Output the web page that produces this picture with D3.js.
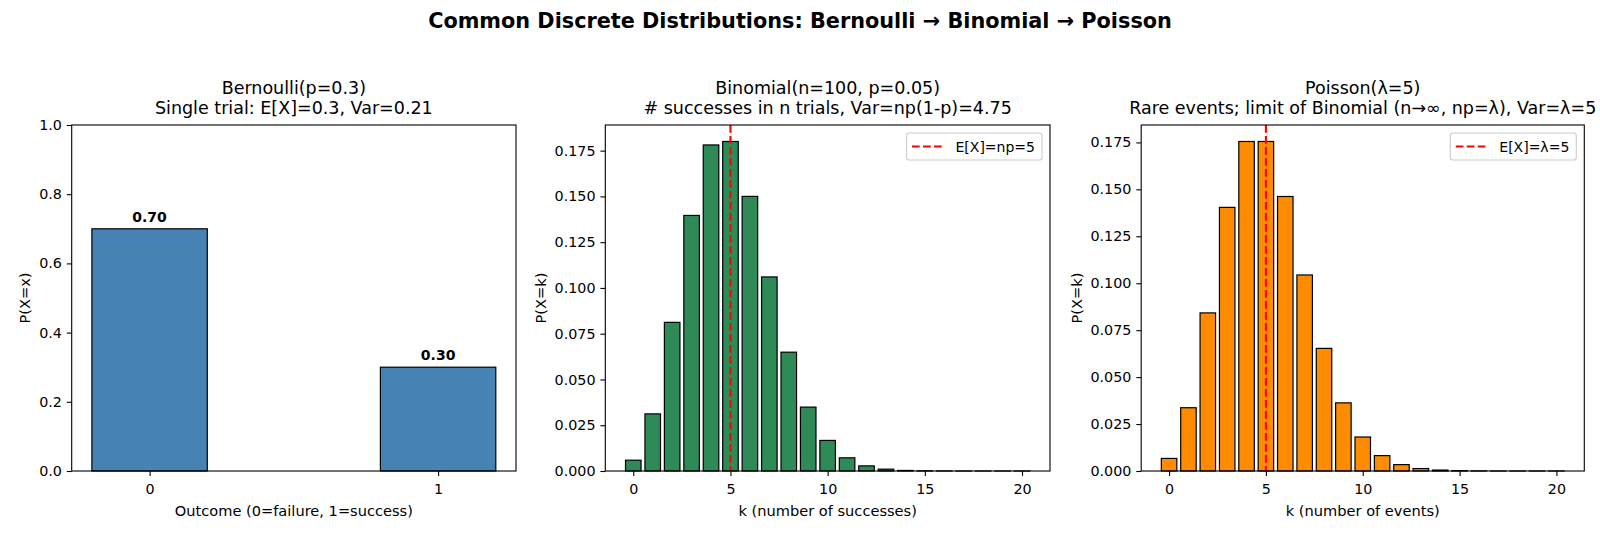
<!DOCTYPE html>
<html>
<head>
<meta charset="utf-8">
<script src="https://cdn.jsdelivr.net/npm/d3@7"></script>
<style>
  body { margin: 0; background: #fff; }
  svg { display: block; font-family: "DejaVu Sans", sans-serif; }
</style>
</head>
<body>
<svg id="chart"></svg>
<script>
// Data
const bernoulliOutcomes = [0, 1];
const bernoulliProbs = [0.70, 0.30];

const kValues = [0, 1, 2, 3, 4, 5, 6, 7, 8, 9, 10, 11, 12, 13, 14, 15, 16, 17, 18, 19, 20];
const binomialProbs = [0.0059, 0.0312, 0.0812, 0.1396, 0.1781, 0.1800, 0.1500, 0.1060, 0.0649, 0.0349,
  0.0167, 0.0072, 0.0028, 0.0010, 0.0003, 0.0001, 0.00003, 0.00001, 0.000002, 0.0000004, 0.0000001];
const poissonProbs = [0.0067, 0.0337, 0.0842, 0.1404, 0.1755, 0.1755, 0.1462, 0.1044, 0.0653, 0.0363,
  0.0181, 0.0082, 0.0034, 0.0013, 0.0005, 0.0002, 0.00005, 0.00001, 0.000004, 0.000001, 0.0000003];

const bernoulliYTicks = [0, 0.2, 0.4, 0.6, 0.8, 1.0];
const distYTicks = [0, 0.025, 0.05, 0.075, 0.1, 0.125, 0.15, 0.175];
const distXTicks = [0, 5, 10, 15, 20];

const meanValue = 5;

// Figure size and fonts
const width = 1600;
const height = 533;
const tickFont = 14.3;
const labelFont = 14.6;
const titleFont = 17.5;
const legendFont = 14;

const svg = d3.select("#chart")
    .attr("width", width)
    .attr("height", height)
    .attr("viewBox", [0, 0, width, height]);

// Figure title
svg.append("text")
    .attr("x", 800)
    .attr("y", 27.5)
    .attr("text-anchor", "middle")
    .attr("font-size", 20.8)
    .attr("font-weight", "bold")
    .text("Common Discrete Distributions: Bernoulli \u2192 Binomial \u2192 Poisson");

// Axes boxes (pixel positions)
const axTop = 125, axBottom = 471;

const panels = [
  {
    left: 71.7, right: 516,
    cats: bernoulliOutcomes, vals: bernoulliProbs, barWidth: 0.4,
    xDomain: [-0.27, 1.27], yMax: 1.0,
    xTicks: bernoulliOutcomes, yTicks: bernoulliYTicks, yFmt: ".1f",
    color: "#4682b4",
    title: ["Bernoulli(p=0.3)", "Single trial: E[X]=0.3, Var=0.21"],
    xLabel: "Outcome (0=failure, 1=success)", yLabel: "P(X=x)",
    valueLabels: true
  },
  {
    left: 605.3, right: 1050,
    cats: kValues, vals: binomialProbs, barWidth: 0.8,
    xDomain: [-1.44, 21.44], yMax: d3.max(binomialProbs) * 1.05,
    xTicks: distXTicks, yTicks: distYTicks, yFmt: ".3f",
    color: "#2e8b57",
    title: ["Binomial(n=100, p=0.05)", "# successes in n trials, Var=np(1-p)=4.75"],
    xLabel: "k (number of successes)", yLabel: "P(X=k)",
    legend: "E[X]=np=5"
  },
  {
    left: 1141.2, right: 1584.3,
    cats: kValues, vals: poissonProbs, barWidth: 0.8,
    xDomain: [-1.44, 21.44], yMax: d3.max(poissonProbs) * 1.05,
    xTicks: distXTicks, yTicks: distYTicks, yFmt: ".3f",
    color: "#ff8c00",
    title: ["Poisson(\u03bb=5)", "Rare events; limit of Binomial (n\u2192\u221e, np=\u03bb), Var=\u03bb=5"],
    xLabel: "k (number of events)", yLabel: "P(X=k)",
    legend: "E[X]=\u03bb=5"
  }
];

panels.forEach(p => {
  const x = d3.scaleLinear().domain(p.xDomain).range([p.left, p.right]);
  const y = d3.scaleLinear().domain([0, p.yMax]).range([axBottom, axTop]);
  const g = svg.append("g");

  // bars
  g.append("g")
    .selectAll("rect")
    .data(p.cats)
    .join("rect")
      .attr("x", (d) => x(d - p.barWidth / 2))
      .attr("width", x(p.barWidth) - x(0))
      .attr("y", (d, i) => y(p.vals[i]))
      .attr("height", (d, i) => y(0) - y(p.vals[i]))
      .attr("fill", p.color)
      .attr("stroke", "#000")
      .attr("stroke-width", 1.2);

  // bar value labels
  if (p.valueLabels) {
    g.append("g")
      .selectAll("text")
      .data(p.cats)
      .join("text")
        .attr("x", d => x(d))
        .attr("y", (d, i) => y(p.vals[i] + 0.02))
        .attr("text-anchor", "middle")
        .attr("font-size", 14)
        .attr("font-weight", "bold")
        .text((d, i) => p.vals[i].toFixed(2));
  }

  // mean line
  if (p.legend) {
    g.append("line")
      .attr("x1", x(meanValue)).attr("x2", x(meanValue))
      .attr("y1", axTop).attr("y2", axBottom)
      .attr("stroke", "#ff0000")
      .attr("stroke-width", 2.1)
      .attr("stroke-dasharray", "7.7,3.3");
  }

  // axes
  const xAxis = g.append("g")
    .attr("transform", `translate(0,${axBottom})`)
    .call(d3.axisBottom(x).tickValues(p.xTicks).tickFormat(d3.format("d"))
      .tickSize(4.9).tickPadding(4.9).tickSizeOuter(0));
  xAxis.select(".domain").remove();
  xAxis.selectAll("text").attr("font-size", tickFont).attr("fill", "#000")
    .attr("font-family", "DejaVu Sans").attr("dy", "0.92em");
  xAxis.selectAll("line").attr("stroke", "#000").attr("stroke-width", 1.1);

  const yAxis = g.append("g")
    .attr("transform", `translate(${p.left},0)`)
    .call(d3.axisLeft(y).tickValues(p.yTicks).tickFormat(d3.format(p.yFmt))
      .tickSize(4.9).tickPadding(4.9).tickSizeOuter(0));
  yAxis.select(".domain").remove();
  yAxis.selectAll("text").attr("font-size", tickFont).attr("fill", "#000")
    .attr("font-family", "DejaVu Sans");
  yAxis.selectAll("line").attr("stroke", "#000").attr("stroke-width", 1.1);

  // spines
  g.append("rect")
    .attr("x", p.left).attr("y", axTop)
    .attr("width", p.right - p.left).attr("height", axBottom - axTop)
    .attr("fill", "none")
    .attr("stroke", "#000")
    .attr("stroke-width", 1.1);

  // title (two lines)
  const cx = (p.left + p.right) / 2;
  g.append("text")
    .attr("x", cx).attr("y", 94)
    .attr("text-anchor", "middle")
    .attr("font-size", titleFont)
    .text(p.title[0]);
  g.append("text")
    .attr("x", cx).attr("y", 114)
    .attr("text-anchor", "middle")
    .attr("font-size", titleFont)
    .text(p.title[1]);

  // x label
  g.append("text")
    .attr("x", cx).attr("y", 516)
    .attr("text-anchor", "middle")
    .attr("font-size", labelFont)
    .text(p.xLabel);

  // y label, placed left of the tick labels
  const tb = yAxis.node().getBBox();
  const yl = p.left + tb.x - 5.6 - 3.3;
  g.append("text")
    .attr("transform", `translate(${yl},${(axTop + axBottom) / 2}) rotate(-90)`)
    .attr("text-anchor", "middle")
    .attr("font-size", labelFont)
    .text(p.yLabel);

  // legend
  if (p.legend) {
    const lg = g.append("g");
    const box = lg.append("rect");
    const label = lg.append("text")
      .attr("font-size", legendFont)
      .text(p.legend);
    const tw = label.node().getComputedTextLength();
    const bw = 5.5 + 31 + 12.5 + tw + 7;
    const bh = 27;
    const bx = p.right - 8 - bw;
    const by = axTop + 8;
    box.attr("x", bx).attr("y", by).attr("width", bw).attr("height", bh)
      .attr("rx", 2.8)
      .attr("fill", "#fff").attr("fill-opacity", 0.8)
      .attr("stroke", "#cccccc").attr("stroke-width", 1.1);
    lg.append("line")
      .attr("x1", bx + 5.5).attr("x2", bx + 5.5 + 31)
      .attr("y1", by + 13.5).attr("y2", by + 13.5)
      .attr("stroke", "#ff0000")
      .attr("stroke-width", 2.1)
      .attr("stroke-dasharray", "7.7,3.3");
    label.attr("x", bx + 5.5 + 31 + 12.5).attr("y", by + 18.5);
  }
});
</script>
</body>
</html>
